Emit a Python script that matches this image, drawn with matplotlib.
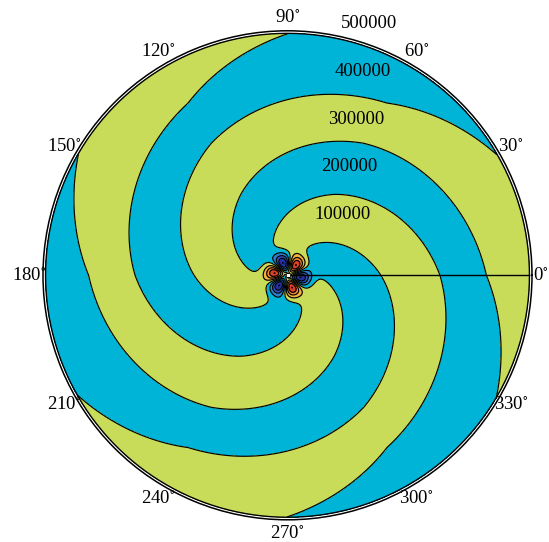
import numpy as np
import matplotlib
matplotlib.use("Agg")
import matplotlib.pyplot as plt
import matplotlib.transforms as mtransforms
from matplotlib.colors import ListedColormap, BoundaryNorm

plt.rcParams["mathtext.fontset"] = "stix"

# ---- values ----
theta_ticks_deg = [0, 30, 60, 90, 120, 150, 180, 210, 240, 270, 300, 330]
theta_labels = [f"{t}$^{{\\circ}}$" for t in theta_ticks_deg]
r_ticks = [100000, 200000, 300000, 400000, 500000]
r_labels = ["100000", "200000", "300000", "400000", "500000"]
r_max = 500000

n_arms = 3                                   # three arms of each colour
# phase of the spiral (in turns) read along the rays, at these radii
phase_radius = [0, 62000, 193000, 315000, 411000, 499000]
phase_turns = [-1.00, -0.75, -0.25, 0.25, 0.75, 1.00]

lobe_radius = 27000        # the six small lobes round the centre
lobe_amplitude = 7.0
lobe_peak_deg = 50.0

levels = [-10, -6, -4.5, -3, -1.5, 0, 1.5, 3, 4.5, 6, 10]
fill_colors = ["#14146e", "#24309c", "#3650bc", "#2f7ccc", "#00b4d8",
               "#c8dc5a", "#f0b43c", "#ec8a2c", "#d8402a", "#a01414"]

# ---- field ----
theta = np.linspace(0, 2 * np.pi, 1441)
r = np.linspace(2500, r_max, 700)
T, R = np.meshgrid(theta, r)
phase = 2 * np.pi * np.interp(R, phase_radius, phase_turns)
far = np.cos(phase + n_arms * T)
g = (R / lobe_radius) ** 2 * np.exp(1 - (R / lobe_radius) ** 2)
near = lobe_amplitude * g * np.cos(n_arms * (T - np.deg2rad(lobe_peak_deg)))
F = far + near

# ---- figure ----
fig = plt.figure(figsize=(5.49, 5.42), dpi=100)
cx, cy, Rout = 287.5, 542 - 275.3, 244.5
ax = fig.add_axes([(cx - Rout) / 549, (cy - Rout) / 542, 2 * Rout / 549, 2 * Rout / 542],
                  projection="polar")
cmap = ListedColormap(fill_colors)
norm = BoundaryNorm(levels, cmap.N)
ax.contourf(T, R, F, levels=levels, cmap=cmap, norm=norm)
ax.contour(T, R, F, levels=levels[1:-1], colors="k", linewidths=0.85,
           linestyles="solid", negative_linestyles="solid")

# data boundary circle, seam line and centre hole
tt = np.linspace(0, 2 * np.pi, 721)
ax.plot(tt, np.full_like(tt, r_max), color="k", lw=1.0)
ax.plot([0, 0], [0, r_max], color="k", lw=1.0)
ax.plot([0], [0], marker="s", ms=3.5, mfc="white", mec="k", mew=0.5)

ax.set_ylim(0, r_max * 1.0105)
ax.grid(False)
ax.set_xticks([])
ax.set_yticks([])
ax.spines["polar"].set_linewidth(1.1)

font = dict(family="Liberation Serif", size=13.5)
for t, lab in zip(theta_ticks_deg, theta_labels):
    rl = r_max * (1.045 if t == 0 else 1.066)
    ax.text(np.deg2rad(t), rl, lab, ha="center", va="center",
            clip_on=False, **font)

off = mtransforms.offset_copy(ax.transData, fig=fig, x=20, y=12.5, units="dots")
for rv, lab in zip(r_ticks, r_labels):
    ax.text(np.deg2rad(82), rv, lab, ha="left", va="center", transform=off,
            clip_on=False, **font)

fig.savefig("out.png", dpi=100)
